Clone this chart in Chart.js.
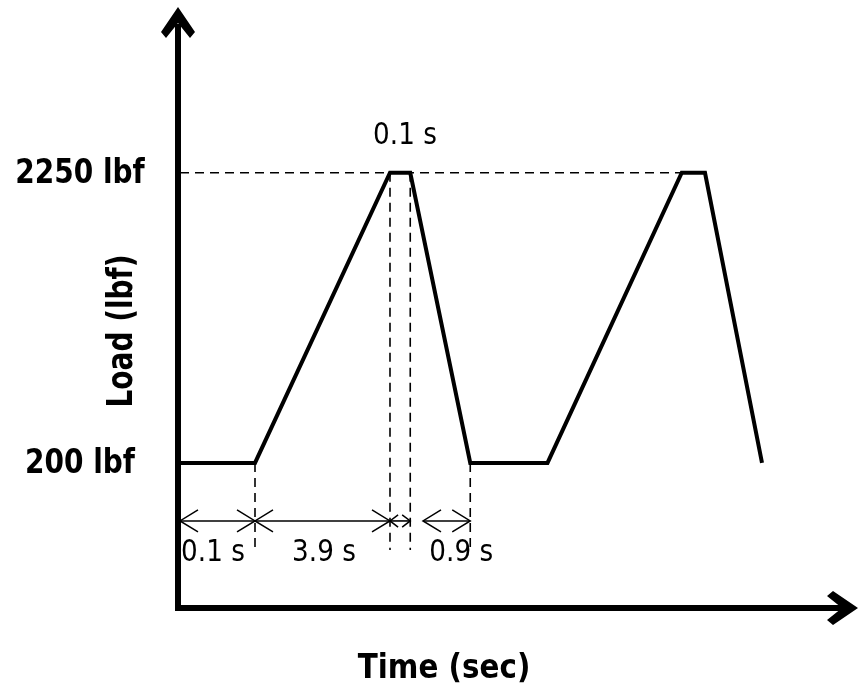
<!DOCTYPE html>
<html>
<head>
<meta charset="utf-8">
<script src="https://cdn.jsdelivr.net/npm/chart.js@4/dist/chart.umd.min.js"></script>
<style>
  html, body { margin: 0; padding: 0; background: #fff; }
  #wrap { width: 859px; height: 692px; position: relative; }
</style>
</head>
<body>
<div id="wrap"><canvas id="c"></canvas></div>
<script>
// Corner positions of the load cycle along the (not-to-scale) time axis, in diagram units
const timePos = [0, 1, 2.8, 3.07, 3.87, 4.9, 6.69, 7.0, 7.76];
// Load at each corner (lbf)
const loadVals = [200, 200, 2250, 2250, 200, 200, 2250, 2250, 200];

// Labelled load levels on the vertical axis
const levelVals = [2250, 200];
const levelLabels = ['2250 lbf', '200 lbf'];

// Timed phases of the first cycle: start/end in diagram units and their durations
const phaseStart = [0, 1, 2.8, 3.24];
const phaseEnd = [1, 2.8, 3.07, 3.87];
const phaseLabels = ['0.1 s', '3.9 s', '0.1 s', '0.9 s'];
// Where each duration label sits along the time axis, and whether it goes above the peak
const phaseLabelPos = [0.44, 1.92, 3.0, 3.75];
const phaseLabelAbove = [false, false, true, false];

// Corners that get a dashed drop line down to the dimension row
const dropTimes = [1, 2.8, 3.07, 3.87];
const dropLoads = [200, 2250, 2250, 200];

const axisTitleX = 'Time (sec)';
const axisTitleY = 'Load (lbf)';

// Load levels (lbf) used for the dimension row, the drop-line ends and the label rows
const DIM_LOAD = -210;
const DROP_END_LOAD = -415;
const BELOW_TEXT_LOAD = -440;
const ABOVE_TEXT_LOAD = 2505;

const BOLD = 'bold 28px "DejaVu Sans", sans-serif';
const NORMAL = '25px "DejaVu Sans", sans-serif';

function chevron(ctx, x, y, dir, len, half) {
  ctx.beginPath();
  ctx.moveTo(x - dir * len, y - half);
  ctx.lineTo(x, y);
  ctx.lineTo(x - dir * len, y + half);
  ctx.stroke();
}

// text drawn slightly taller than the font's natural proportions
function tallText(ctx, text, x, y, sx, sy, rot) {
  ctx.save();
  ctx.translate(x, y);
  if (rot) ctx.rotate(rot);
  ctx.scale(sx, sy);
  ctx.fillText(text, 0, 0);
  ctx.restore();
}

const diagramPlugin = {
  id: 'diagram',
  beforeDatasetsDraw(chart) {
    const { ctx } = chart;
    const xs = chart.scales.x, ys = chart.scales.y;
    ctx.save();
    ctx.strokeStyle = '#000';
    ctx.lineWidth = 1.6;
    ctx.setLineDash([9, 6]);
    // reference line at the peak load, running to the second peak
    ctx.beginPath();
    ctx.moveTo(xs.getPixelForValue(0), ys.getPixelForValue(levelVals[0]));
    ctx.lineTo(xs.getPixelForValue(timePos[6]), ys.getPixelForValue(levelVals[0]));
    ctx.stroke();
    // drop lines from the corners
    dropTimes.forEach((t, i) => {
      ctx.beginPath();
      ctx.moveTo(xs.getPixelForValue(t), ys.getPixelForValue(dropLoads[i]));
      ctx.lineTo(xs.getPixelForValue(t), ys.getPixelForValue(DROP_END_LOAD));
      ctx.stroke();
    });
    ctx.restore();
  },
  afterDatasetsDraw(chart) {
    const { ctx, chartArea } = chart;
    const xs = chart.scales.x, ys = chart.scales.y;
    ctx.save();

    // dimension arrows
    const dy = ys.getPixelForValue(DIM_LOAD);
    ctx.strokeStyle = '#000';
    ctx.setLineDash([]);
    phaseStart.forEach((s, i) => {
      const x0 = xs.getPixelForValue(s), x1 = xs.getPixelForValue(phaseEnd[i]);
      const span = x1 - x0;
      const len = Math.min(18, span * 0.4), half = Math.min(11, span * 0.3);
      ctx.lineWidth = 1.6;
      ctx.beginPath();
      ctx.moveTo(x0, dy);
      ctx.lineTo(x1, dy);
      ctx.stroke();
      ctx.lineWidth = 1.5;
      chevron(ctx, x0, dy, -1, len, half);
      chevron(ctx, x1, dy, 1, len, half);
    });

    // axes with arrowheads
    const ax = chartArea.left - 2, ay = chartArea.bottom;
    ctx.fillStyle = '#000';
    ctx.fillRect(ax - 3, chartArea.top + 14, 6, ay - chartArea.top - 11);
    ctx.fillRect(ax - 3, ay - 3, chartArea.right - ax - 10, 6);
    const ty = chartArea.top - 3;
    ctx.beginPath();
    ctx.moveTo(ax, ty);
    ctx.lineTo(ax - 17, ty + 25);
    ctx.lineTo(ax - 12, ty + 31);
    ctx.lineTo(ax, ty + 16);
    ctx.lineTo(ax + 12, ty + 31);
    ctx.lineTo(ax + 17, ty + 25);
    ctx.closePath();
    ctx.fill();
    const tx = chartArea.right + 3;
    ctx.beginPath();
    ctx.moveTo(tx, ay);
    ctx.lineTo(tx - 25, ay - 17);
    ctx.lineTo(tx - 31, ay - 12);
    ctx.lineTo(tx - 16, ay);
    ctx.lineTo(tx - 31, ay + 12);
    ctx.lineTo(tx - 25, ay + 17);
    ctx.closePath();
    ctx.fill();

    // load level labels
    ctx.textBaseline = 'middle';
    ctx.textAlign = 'center';
    ctx.font = BOLD;
    levelVals.forEach((v, i) => {
      tallText(ctx, levelLabels[i], 80, ys.getPixelForValue(v) + 1, 1.0, 1.2);
    });

    // axis titles
    tallText(ctx, axisTitleX, 444, 669, 1.05, 1.2);
    tallText(ctx, axisTitleY, 123, 331, 1.0, 1.25, -Math.PI / 2);

    // duration labels
    ctx.font = NORMAL;
    phaseLabels.forEach((lab, i) => {
      const y = ys.getPixelForValue(phaseLabelAbove[i] ? ABOVE_TEXT_LOAD : BELOW_TEXT_LOAD);
      tallText(ctx, lab, xs.getPixelForValue(phaseLabelPos[i]), y, 1.05, 1.2);
    });

    ctx.restore();
  }
};

new Chart(document.getElementById('c'), {
  type: 'line',
  data: {
    datasets: [{
      data: timePos.map((t, i) => ({ x: t, y: loadVals[i] })),
      borderColor: '#000',
      borderWidth: 4,
      pointRadius: 0,
      tension: 0,
      fill: false,
      clip: false,
      borderJoinStyle: 'miter'
    }]
  },
  options: {
    responsive: true,
    maintainAspectRatio: false,
    animation: false,
    devicePixelRatio: 1,
    layout: { padding: { left: 180, right: 4, top: 10, bottom: 84 } },
    plugins: { legend: { display: false }, tooltip: { enabled: false } },
    scales: {
      x: { type: 'linear', min: 0, max: 9, display: false },
      y: { type: 'linear', min: -825, max: 3400, display: false }
    }
  },
  plugins: [diagramPlugin]
});
</script>
</body>
</html>
